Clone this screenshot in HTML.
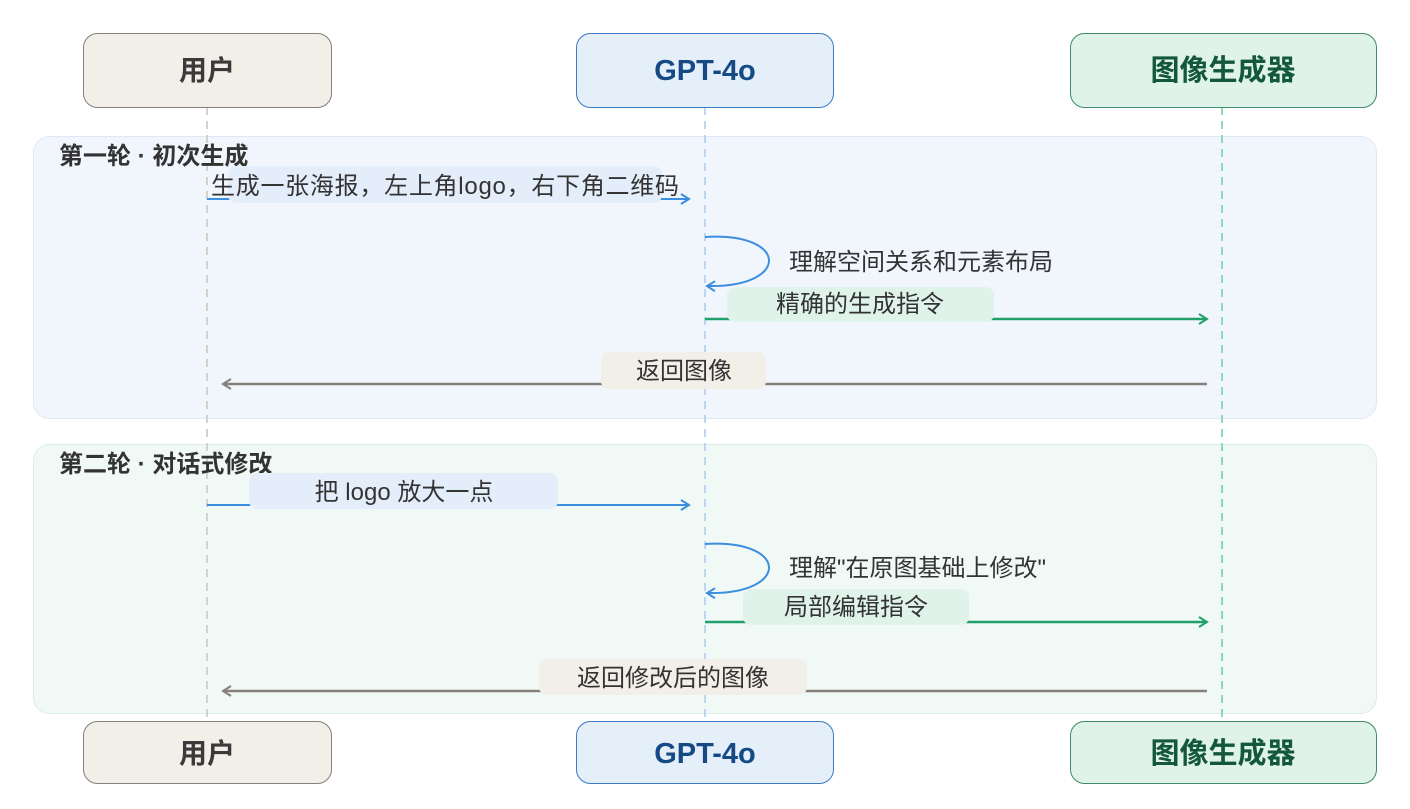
<!DOCTYPE html>
<html><head><meta charset="utf-8"><style>
body{margin:0;background:#fff}
text{font-family:"Liberation Sans","Noto Sans CJK SC",sans-serif}
</style></head><body>
<svg width="1410" height="804" viewBox="0 0 1410 804" xmlns="http://www.w3.org/2000/svg">
<defs>
<marker id="ab" markerWidth="12" markerHeight="12" refX="10" refY="6" orient="auto" markerUnits="userSpaceOnUse"><path d="M2,1 L10,6 L2,11" fill="none" stroke="#3b8ee0" stroke-width="2"/></marker>
<marker id="ag" markerWidth="12" markerHeight="12" refX="10" refY="6" orient="auto" markerUnits="userSpaceOnUse"><path d="M2,1 L10,6 L2,11" fill="none" stroke="#22a06b" stroke-width="2"/></marker>
<marker id="ay" markerWidth="12" markerHeight="12" refX="10" refY="6" orient="auto" markerUnits="userSpaceOnUse"><path d="M2,1 L10,6 L2,11" fill="none" stroke="#85817a" stroke-width="2"/></marker>
</defs>
<rect x="33.5" y="136.5" width="1343" height="282" rx="16" fill="#f1f6fd" stroke="#dde9f7"/>
<rect x="33.5" y="444.5" width="1343" height="269" rx="16" fill="#f0f9f5" stroke="#d9efe5"/>
<line x1="207" y1="107" x2="207" y2="721" stroke="#d4d2cd" stroke-width="2" stroke-dasharray="8,6"/>
<line x1="705" y1="107" x2="705" y2="721" stroke="#a9cbef" stroke-width="1.5" stroke-dasharray="8,6"/>
<line x1="1222" y1="107" x2="1222" y2="721" stroke="#8fd8b8" stroke-width="2" stroke-dasharray="8,6"/>
<g font-size="28" font-weight="bold" text-anchor="middle">
<rect x="83.5" y="33.5" width="248" height="74" rx="14" fill="#f2efe8" stroke="#85817a"/>
<text x="207" y="80" fill="#3a3a3a">用户</text>
<rect x="576.5" y="33.5" width="257" height="74" rx="14" fill="#e4effa" stroke="#3b7ac4"/>
<text x="705" y="80" fill="#154a85" font-size="29">GPT-4o</text>
<rect x="1070.5" y="33.5" width="306" height="74" rx="14" fill="#e0f3ea" stroke="#3f8a6a"/>
<text x="1223" y="80" fill="#13573d" font-size="29">图像生成器</text>
<rect x="83.5" y="721.5" width="248" height="62" rx="14" fill="#f2efe8" stroke="#85817a"/>
<text x="207" y="763" fill="#3a3a3a">用户</text>
<rect x="576.5" y="721.5" width="257" height="62" rx="14" fill="#e4effa" stroke="#3b7ac4"/>
<text x="705" y="763" fill="#154a85" font-size="29">GPT-4o</text>
<rect x="1070.5" y="721.5" width="306" height="62" rx="14" fill="#e0f3ea" stroke="#3f8a6a"/>
<text x="1223" y="763" fill="#13573d" font-size="29">图像生成器</text>
</g>
<g font-size="24" fill="#333">
<text x="59" y="164" font-weight="bold" font-size="24">第一轮 · 初次生成</text>
<text x="59" y="472" font-weight="bold" font-size="24">第二轮 · 对话式修改</text>
<line x1="207" y1="199" x2="689" y2="199" stroke="#3b8ee0" stroke-width="2" marker-end="url(#ab)"/>
<rect x="228" y="166" width="434" height="37" rx="8" fill="#e4eefa"/>
<text x="211" y="194" textLength="468">生成一张海报，左上角logo，右下角二维码</text>
<path d="M705,237 C790,232 790,288 707,286" fill="none" stroke="#3b8ee0" stroke-width="2" marker-end="url(#ab)"/>
<text x="789" y="270">理解空间关系和元素布局</text>
<line x1="705" y1="319" x2="1207" y2="319" stroke="#22a06b" stroke-width="2.5" marker-end="url(#ag)"/>
<rect x="727" y="287" width="267" height="35" rx="8" fill="#e0f3ea"/>
<text x="860" y="312" text-anchor="middle">精确的生成指令</text>
<line x1="1207" y1="384" x2="223" y2="384" stroke="#85817a" stroke-width="2.5" marker-end="url(#ay)"/>
<rect x="601" y="352" width="165" height="37" rx="8" fill="#f2efe8"/>
<text x="684" y="379" text-anchor="middle">返回图像</text>
<line x1="207" y1="505" x2="689" y2="505" stroke="#3b8ee0" stroke-width="2" marker-end="url(#ab)"/>
<rect x="249" y="473" width="309" height="36" rx="8" fill="#e4eefa"/>
<text x="404" y="500" text-anchor="middle">把 logo 放大一点</text>
<path d="M705,544 C790,539 790,595 707,593" fill="none" stroke="#3b8ee0" stroke-width="2" marker-end="url(#ab)"/>
<text x="789" y="576">理解"在原图基础上修改"</text>
<line x1="705" y1="622" x2="1207" y2="622" stroke="#22a06b" stroke-width="2.5" marker-end="url(#ag)"/>
<rect x="743" y="589" width="226" height="36" rx="8" fill="#e0f3ea"/>
<text x="856" y="615" text-anchor="middle">局部编辑指令</text>
<line x1="1207" y1="691" x2="223" y2="691" stroke="#85817a" stroke-width="2.5" marker-end="url(#ay)"/>
<rect x="539" y="659" width="268" height="36" rx="8" fill="#f2efe8"/>
<text x="673" y="686" text-anchor="middle">返回修改后的图像</text>
</g>
</svg>
</body></html>
